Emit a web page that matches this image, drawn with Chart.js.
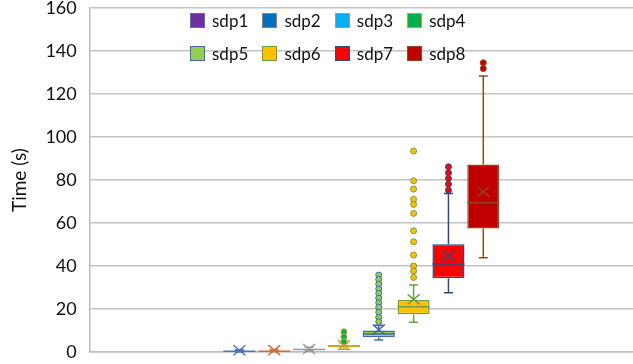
<!DOCTYPE html>
<html>
<head>
<meta charset="utf-8">
<title>sdp box plot</title>
<script src="https://cdn.jsdelivr.net/npm/chart.js@4.4.1/dist/chart.umd.min.js"></script>
<style>
  html, body { margin: 0; padding: 0; background: #fff; }
  #wrap { position: relative; width: 633px; height: 364px; }
  #boxChart { display: block; }
  #legend { position: absolute; left: 0; top: 0; font-family: Lato, sans-serif; font-size: 17px; color: #111; }
  .item { position: absolute; display: flex; align-items: center; height: 20px; white-space: nowrap; }
  .swatch { box-sizing: border-box; width: 15px; height: 15px; border: 1.5px solid; margin-right: 7px; }
</style>
</head>
<body>
<div id="wrap">
  <canvas id="boxChart" width="633" height="364"></canvas>
  <div id="legend"></div>
</div>
<script>
/* ----------------------------------------------------------
   DATA
---------------------------------------------------------- */
const seriesNames = ["sdp1", "sdp2", "sdp3", "sdp4", "sdp5", "sdp6", "sdp7", "sdp8"];
const minValues    = [0.0, 0.1, 0.5, 1.3, 5.6, 13.8, 27.6, 43.9];
const q1Values     = [0.2, 0.3, 1.0, 2.3, 6.9, 17.6, 34.3, 57.5];
const medianValues = [0.3, 0.4, 1.2, 2.8, 8.4, 21.1, 40.9, 69.5];
const q3Values     = [0.5, 0.6, 1.5, 3.3, 10.0, 24.2, 50.1, 87.3];
const maxValues    = [1.0, 1.1, 2.2, 4.0, 12.5, 31.2, 73.8, 128.5];
const meanValues   = [0.8, 0.9, 1.4, 3.2, 10.4, 24.5, 44.7, 74.6];
const outlierValues = [
  [],
  [],
  [],
  [9.4, 7.1, 4.8],
  [35.8, 33.8, 31.6, 29.3, 27.3, 25.1, 22.9, 20.8, 18.5, 16.1, 14.1],
  [93.5, 79.7, 75.8, 71.0, 68.7, 64.5, 56.4, 51.3, 45.1, 40.0, 37.7, 34.7],
  [86.2, 83.4, 80.8, 78.1, 75.3],
  [134.6, 131.9]
];
const yTicks = [0, 20, 40, 60, 80, 100, 120, 140, 160];

/* ----------------------------------------------------------
   STYLE
---------------------------------------------------------- */
const fillColors = ["#7030A0", "#0070C0", "#00B0F0", "#00B050", "#92D050", "#FFC000", "#FF0000", "#C00000"];
const lineColors = ["#4F74B8", "#D0703A", "#9A9A9A", "#C9A227", "#4668AE", "#6E9E45", "#2F4A80", "#8E4A1E"];
const FONT = "Lato, 'Liberation Sans', sans-serif";

/* ----------------------------------------------------------
   WHISKERS / MEDIAN / MEAN / OUTLIERS
---------------------------------------------------------- */
const boxExtras = {
  id: "boxExtras",
  afterDatasetsDraw(chart) {
    const ctx = chart.ctx;
    const ys = chart.scales.y;
    ctx.save();
    chart.data.datasets.forEach((ds, i) => {
      const bar = chart.getDatasetMeta(i).data[0];
      if (!bar) return;
      const cx = bar.x, half = bar.width / 2;
      const color = lineColors[i];
      const yMin = ys.getPixelForValue(minValues[i]);
      const yQ1 = ys.getPixelForValue(q1Values[i]);
      const yMed = ys.getPixelForValue(medianValues[i]);
      const yQ3 = ys.getPixelForValue(q3Values[i]);
      const yMax = ys.getPixelForValue(maxValues[i]);
      const yMean = ys.getPixelForValue(meanValues[i]);

      ctx.strokeStyle = color;
      ctx.lineWidth = 1.5;
      ctx.beginPath();
      // whiskers
      ctx.moveTo(cx, yQ3); ctx.lineTo(cx, yMax);
      ctx.moveTo(cx, yQ1); ctx.lineTo(cx, yMin);
      // caps
      ctx.moveTo(cx - 4.5, yMax); ctx.lineTo(cx + 4.5, yMax);
      ctx.moveTo(cx - 4.5, yMin); ctx.lineTo(cx + 4.5, yMin);
      // median
      ctx.moveTo(cx - half, yMed); ctx.lineTo(cx + half, yMed);
      ctx.stroke();

      // mean marker (X)
      ctx.beginPath();
      ctx.moveTo(cx - 6, yMean - 5); ctx.lineTo(cx + 6, yMean + 5);
      ctx.moveTo(cx - 6, yMean + 5); ctx.lineTo(cx + 6, yMean - 5);
      ctx.stroke();

      // outliers
      ctx.lineWidth = 1;
      ctx.fillStyle = fillColors[i];
      outlierValues[i].forEach(v => {
        ctx.beginPath();
        ctx.arc(cx, ys.getPixelForValue(v), 3, 0, Math.PI * 2);
        ctx.fill();
        ctx.stroke();
      });
    });
    ctx.restore();
  }
};

/* ----------------------------------------------------------
   CHART
---------------------------------------------------------- */
const datasets = seriesNames.map((name, i) => ({
  label: name,
  data: [[q1Values[i], q3Values[i]]],
  backgroundColor: fillColors[i],
  borderColor: lineColors[i],
  borderWidth: 1.5,
  borderSkipped: false,
  barPercentage: 0.92,
  categoryPercentage: 0.513
}));

new Chart(document.getElementById("boxChart"), {
  type: "bar",
  data: { labels: [""], datasets },
  plugins: [boxExtras],
  options: {
    responsive: false,
    animation: false,
    layout: { padding: { left: 0, right: 0, top: 0, bottom: 12 } },
    plugins: { legend: { display: false }, tooltip: { enabled: false } },
    scales: {
      x: {
        ticks: { display: false },
        grid: { display: false, drawTicks: false },
        border: { display: true, color: "#BDBDBD", width: 1.5 }
      },
      y: {
        min: 0,
        max: 160,
        afterBuildTicks: axis => { axis.ticks = yTicks.map(v => ({ value: v })); },
        ticks: { color: "#111", padding: 1, font: { family: FONT, size: 18, lineHeight: 0.8 } },
        grid: { color: "#C3C3C3", lineWidth: 1.5, drawTicks: true, tickLength: 12, tickColor: "rgba(0,0,0,0)" },
        border: { display: true, color: "#BDBDBD", width: 1.5 },
        title: {
          display: true,
          text: "Time (s)",
          color: "#111",
          font: { family: FONT, size: 19 },
          padding: { top: 8.6, bottom: 13 }
        }
      }
    }
  }
});

/* ----------------------------------------------------------
   LEGEND (2 rows x 4, sitting over the plot)
---------------------------------------------------------- */
const legend = document.getElementById("legend");
seriesNames.forEach((name, i) => {
  const col = i % 4, row = Math.floor(i / 4);
  const item = document.createElement("div");
  item.className = "item";
  item.style.left = (190 + col * 72.4) + "px";
  item.style.top = (10 + row * 33.5) + "px";
  const sw = document.createElement("span");
  sw.className = "swatch";
  sw.style.background = fillColors[i];
  sw.style.borderColor = lineColors[i];
  const txt = document.createElement("span");
  txt.textContent = name;
  item.appendChild(sw);
  item.appendChild(txt);
  legend.appendChild(item);
});
</script>
</body>
</html>
